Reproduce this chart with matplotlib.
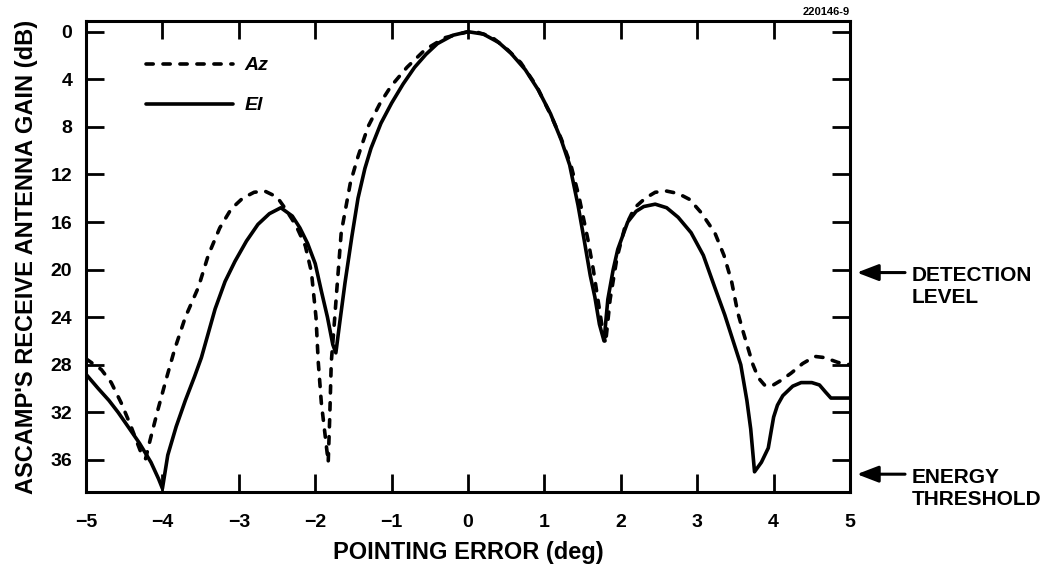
import matplotlib
matplotlib.use("Agg")
import matplotlib.pyplot as plt

plt.rcParams["font.family"] = ["Liberation Sans", "DejaVu Sans"]
plt.rcParams["font.weight"] = "bold"

# pointing error (deg) and gain below peak (dB)
az_x = [-5.00, -4.80, -4.67, -4.54, -4.41, -4.28, -4.22, -4.16, -4.06, -3.95,
        -3.84, -3.70, -3.53, -3.40, -3.25, -3.10, -2.95, -2.80, -2.66, -2.50,
        -2.40, -2.30, -2.23, -2.13, -2.05, -1.99, -1.96, -1.92, -1.86, -1.83,
        -1.81, -1.79, -1.75, -1.72, -1.66, -1.54, -1.44, -1.31, -1.15, -1.01,
        -0.80, -0.56, -0.30, 0.00, 0.10, 0.30, 0.50, 0.69, 0.90, 1.09,
        1.22, 1.35, 1.45, 1.57, 1.64, 1.70, 1.76, 1.80, 1.86, 1.95,
        2.05, 2.18, 2.32, 2.45, 2.60, 2.75, 2.90, 3.05, 3.23, 3.35,
        3.45, 3.53, 3.60, 3.66, 3.73, 3.80, 3.88, 3.97, 4.10, 4.23,
        4.38, 4.54, 4.67, 4.84, 5.00]
az_db = [27.5, 28.4, 29.5, 31.2, 33.2, 35.4, 35.9, 34.3, 31.8, 29.2,
         26.7, 24.0, 21.5, 18.8, 16.5, 14.9, 14.0, 13.5, 13.4, 13.9,
         14.8, 15.8, 16.6, 18.0, 20.2, 24.0, 27.8, 31.2, 34.5, 36.2,
         32.4, 27.8, 24.5, 21.9, 16.9, 12.7, 10.5, 8.0, 6.0, 4.6,
         3.0, 1.5, 0.5, 0.0, 0.0, 0.4, 1.4, 2.6, 4.6, 7.1,
         9.0, 11.3, 13.8, 17.5, 20.0, 22.5, 25.0, 26.2, 22.5, 19.0,
         16.5, 14.8, 14.0, 13.5, 13.4, 13.6, 14.1, 15.2, 16.9, 18.8,
         21.0, 23.6, 25.2, 26.5, 28.0, 29.1, 29.7, 29.8, 29.3, 28.7,
         27.9, 27.3, 27.4, 27.8, 28.0]

el_x = [-5.00, -4.84, -4.70, -4.58, -4.45, -4.30, -4.15, -4.05, -4.00, -3.93,
        -3.82, -3.70, -3.58, -3.49, -3.31, -3.18, -3.05, -2.90, -2.75, -2.60,
        -2.45, -2.30, -2.20, -2.10, -2.00, -1.92, -1.84, -1.77, -1.73, -1.68,
        -1.61, -1.52, -1.44, -1.35, -1.27, -1.14, -1.00, -0.85, -0.70, -0.55,
        -0.40, -0.20, 0.00, 0.20, 0.40, 0.56, 0.75, 0.92, 1.08, 1.22,
        1.33, 1.44, 1.52, 1.60, 1.66, 1.72, 1.78, 1.83, 1.90, 1.96,
        2.09, 2.20, 2.30, 2.45, 2.60, 2.75, 2.92, 3.08, 3.23, 3.36,
        3.47, 3.57, 3.65, 3.70, 3.75, 3.84, 3.93, 3.97, 4.00, 4.05,
        4.12, 4.25, 4.36, 4.50, 4.60, 4.68, 4.75, 5.00]
el_db = [28.8, 30.0, 31.0, 32.0, 33.2, 34.6, 36.2, 37.6, 38.4, 35.6,
         33.2, 31.0, 29.0, 27.4, 23.3, 21.0, 19.3, 17.6, 16.2, 15.3,
         14.8, 15.5, 16.5, 17.8, 19.5, 21.8, 24.0, 26.3, 27.0, 24.5,
         21.1, 17.2, 14.0, 11.5, 9.8, 7.7, 6.0, 4.4, 3.0, 1.9,
         1.0, 0.3, 0.0, 0.2, 0.9, 1.8, 3.2, 4.9, 6.9, 9.1,
         11.2, 14.6, 17.5, 20.5, 22.3, 24.6, 26.0, 22.5, 20.0, 18.3,
         16.0, 15.1, 14.7, 14.5, 14.8, 15.6, 16.9, 18.8, 21.5, 23.8,
         26.0, 28.0, 31.0, 33.4, 37.0, 36.2, 35.0, 33.5, 32.4, 31.4,
         30.6, 29.8, 29.5, 29.5, 29.7, 30.3, 30.8, 30.8]

x_ticks = [-5, -4, -3, -2, -1, 0, 1, 2, 3, 4, 5]
y_ticks = [0, 4, 8, 12, 16, 20, 24, 28, 32, 36]

detection_db = 20.25
threshold_db = 37.2

fig = plt.figure(figsize=(10.44, 5.66), dpi=100)
ax = fig.add_axes([0.0824, 0.1307, 0.7318, 0.8322])

ax.plot(az_x, az_db, color="black", lw=2.6, linestyle=(0, (2.0, 2.7)),
        dash_capstyle="round", label="Az")
ax.plot(el_x, el_db, color="black", lw=2.6, solid_capstyle="round", label="El")

ax.set_xlim(-5, 5)
ax.set_ylim(38.7, -0.9)
ax.set_xticks(x_ticks)
ax.set_yticks(y_ticks)
ax.tick_params(direction="in", length=13, width=2, top=True, right=True,
               labelsize=14)
ax.tick_params(axis="x", pad=16)
ax.tick_params(axis="y", pad=10)
for s in ax.spines.values():
    s.set_linewidth(2.2)

ax.set_xlabel("POINTING ERROR (deg)", fontsize=17, fontweight="bold", labelpad=7)
ax.set_ylabel("ASCAMP'S RECEIVE ANTENNA GAIN (dB)", fontsize=17,
              fontweight="bold", labelpad=9)

ax.legend(loc="upper left", bbox_to_anchor=(0.078, 0.924), frameon=False,
          handlelength=4.5, handletextpad=0.6, labelspacing=1.15,
          borderpad=0, borderaxespad=0,
          prop={"style": "italic", "weight": "bold", "size": 14})

# level markers on the right side
tr = ("axes fraction", "data")
for lvl, txt in [(detection_db, "DETECTION\nLEVEL"), (threshold_db, "ENERGY\nTHRESHOLD")]:
    ax.annotate("", xy=(1.009, lvl), xycoords=tr, xytext=(1.072, lvl),
                textcoords=tr,
                arrowprops=dict(arrowstyle="-|>,head_length=1.3,head_width=0.5",
                                color="black", lw=2.2, shrinkA=0, shrinkB=0))
    ax.annotate(txt, xy=(1.081, lvl), xycoords=tr, xytext=(0, -14),
                textcoords="offset pixels", ha="left", va="center",
                fontsize=15, fontweight="bold", linespacing=1.2,
                annotation_clip=False)

fig.text(0.8142, 0.978, "220146-9", ha="right", va="center", fontsize=8,
         fontweight="bold")

fig.savefig("out.png", dpi=100)
